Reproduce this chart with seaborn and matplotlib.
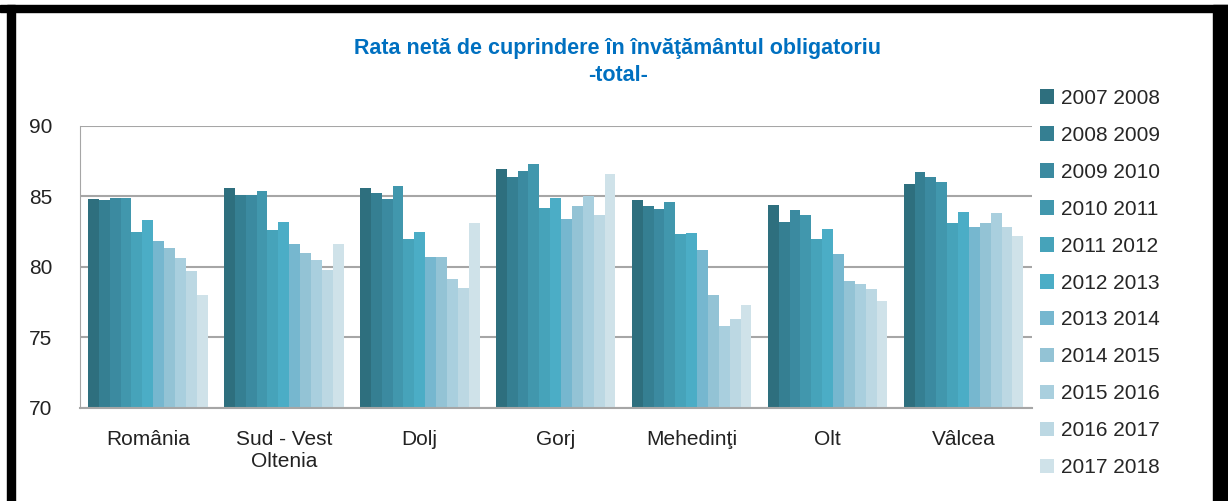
import pandas as pd
import seaborn as sns
import matplotlib.pyplot as plt
from matplotlib.patches import Rectangle

regions = ["România", "Sud - Vest\nOltenia", "Dolj", "Gorj", "Mehedinţi", "Olt", "Vâlcea"]
years = ["2007 2008", "2008 2009", "2009 2010", "2010 2011", "2011 2012", "2012 2013",
         "2013 2014", "2014 2015", "2015 2016", "2016 2017", "2017 2018"]

romania = [84.8, 84.7, 84.9, 84.9, 82.5, 83.3, 81.8, 81.3, 80.6, 79.7, 78.0]
sud_vest = [85.6, 85.1, 85.1, 85.4, 82.6, 83.2, 81.6, 81.0, 80.5, 79.8, 81.6]
dolj = [85.6, 85.2, 84.8, 85.7, 82.0, 82.5, 80.7, 80.7, 79.1, 78.5, 83.1]
gorj = [86.9, 86.4, 86.8, 87.3, 84.2, 84.9, 83.4, 84.3, 85.0, 83.7, 86.6]
mehedinti = [84.7, 84.3, 84.1, 84.6, 82.3, 82.4, 81.2, 78.0, 75.8, 76.3, 77.3]
olt = [84.4, 83.2, 84.0, 83.7, 82.0, 82.7, 80.9, 79.0, 78.8, 78.4, 77.6]
valcea = [85.9, 86.7, 86.4, 86.0, 83.1, 83.9, 82.8, 83.1, 83.8, 82.8, 82.2]

colors = ["#2e6f7e", "#357f92", "#3b8aa0", "#4197ad", "#46a3ba", "#4badc6",
          "#76b7cf", "#93c3d5", "#a9cfde", "#bcd8e3", "#cfe2e9"]

rows = []
for reg, vals in zip(regions, [romania, sud_vest, dolj, gorj, mehedinti, olt, valcea]):
    for yr, v in zip(years, vals):
        rows.append({"regiune": reg, "an": yr, "rata": v})
df = pd.DataFrame(rows)

sns.set_style("white")
plt.rcParams["font.family"] = ["Liberation Sans", "DejaVu Sans"]

fig = plt.figure(figsize=(12.28, 5.01), dpi=100)
ax = fig.add_axes([0.065, 0.186, 0.775, 0.563])

sns.barplot(data=df, x="regiune", y="rata", hue="an", hue_order=years, order=regions,
            palette=colors, width=0.88, linewidth=0, saturation=1, ax=ax)

ax.set_ylim(70, 90)
ax.set_yticks([70, 75, 80, 85, 90])
ax.set_xlim(-0.5, 6.5)
ax.yaxis.grid(True, color="#a6a6a6", linewidth=1.5)
ax.set_axisbelow(True)
for s in ["top", "right"]:
    ax.spines[s].set_visible(False)
ax.spines["left"].set_color("#a6a6a6")
ax.spines["bottom"].set_color("#a6a6a6")
ax.spines["bottom"].set_linewidth(1.5)
ax.tick_params(axis="y", length=0, pad=20, labelsize=15, colors="#222222")
ax.tick_params(axis="x", length=0, pad=16, labelsize=15, colors="#222222")
ax.set_xlabel("")
ax.set_ylabel("")

handles, labels = ax.get_legend_handles_labels()
ax.legend_.remove()
fig.legend(handles, labels, loc="upper left", bbox_to_anchor=(0.84, 0.839),
           frameon=False, fontsize=15, handlelength=0.7, handleheight=0.7,
           handletextpad=0.3, labelspacing=0.86, borderaxespad=0)

fig.text(0.503, 0.876, "Rata netă de cuprindere în învăţământul obligatoriu\n-total-",
         ha="center", va="center", color="#0070c0", fontsize=15.5, fontweight="bold",
         linespacing=1.4)

# black frame of the original screenshot
fig.patches.append(Rectangle((0, 0.976), 1, 0.014, transform=fig.transFigure,
                             color="black", zorder=10))
fig.patches.append(Rectangle((0.0057, 0), 0.0065, 0.99, transform=fig.transFigure,
                             color="black", zorder=10))
fig.patches.append(Rectangle((0.988, 0), 0.012, 0.99, transform=fig.transFigure,
                             color="black", zorder=10))

fig.savefig("out.png", dpi=100)
